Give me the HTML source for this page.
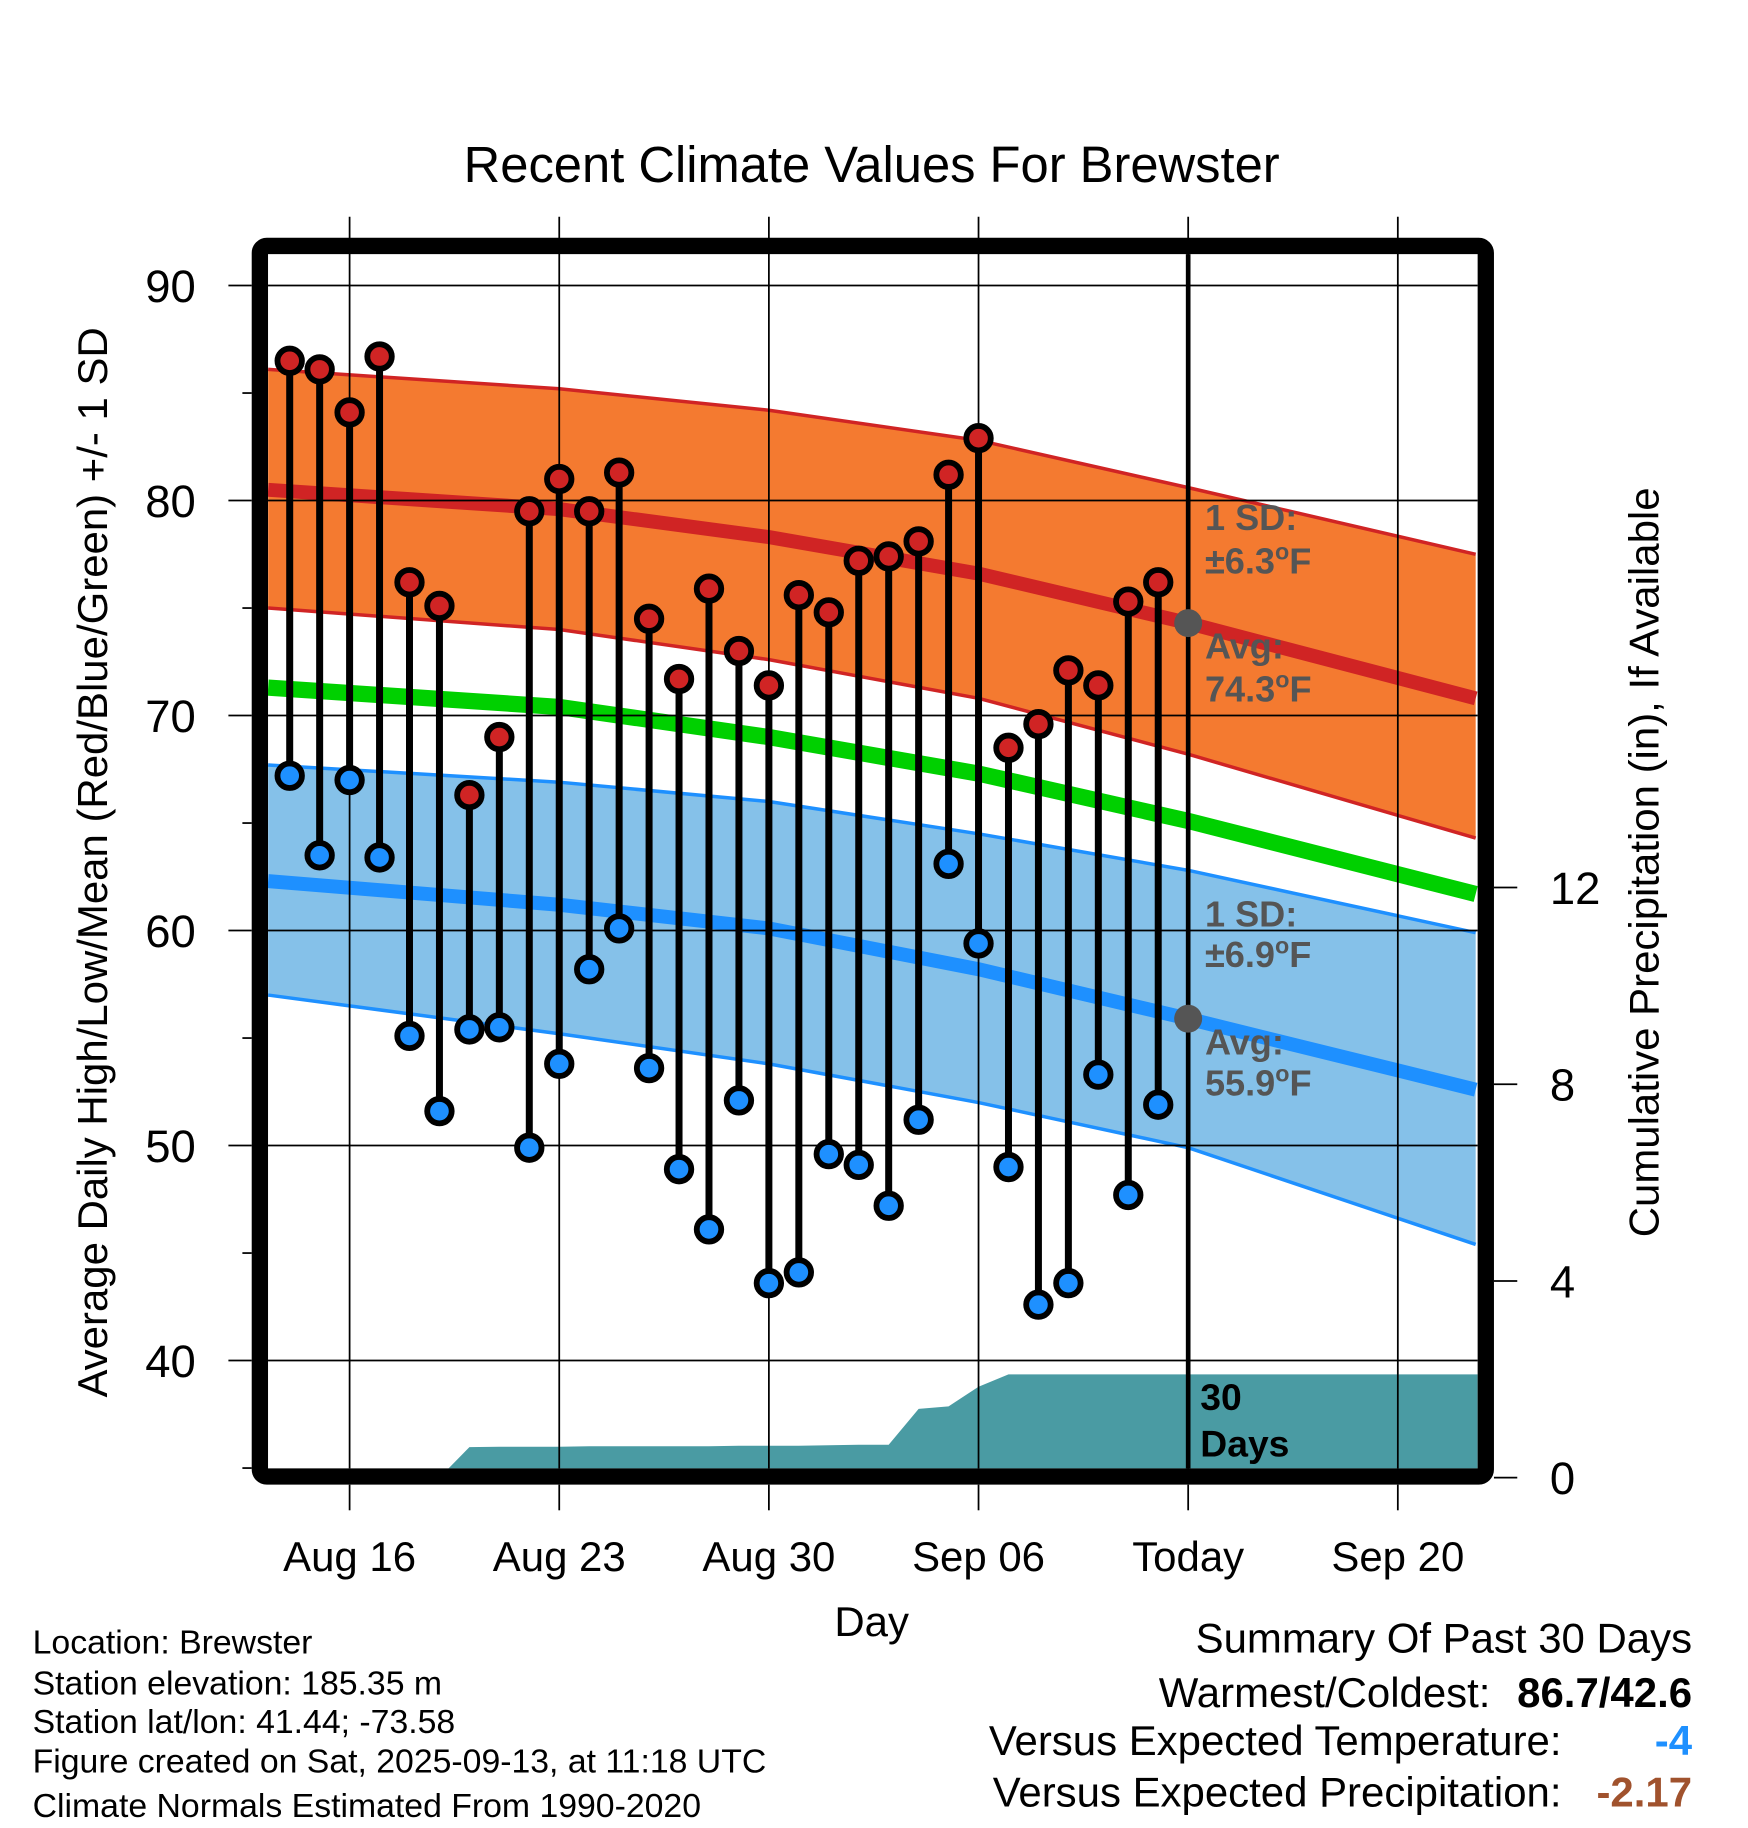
<!DOCTYPE html>
<html><head><meta charset="utf-8"><style>
html,body{margin:0;padding:0;background:#fff}
svg{display:block;font-family:"Liberation Sans",Arial,sans-serif}
</style></head><body>
<svg id="chart" width="1748" height="1828" viewBox="0 0 1500 1568.6" xmlns="http://www.w3.org/2000/svg">
<defs><clipPath id="clip"><rect x="230" y="218" width="1038" height="1042"/></clipPath></defs>
<text x="748" y="156" font-size="43.5" text-anchor="middle">Recent Climate Values For Brewster</text>
<g id="grid"></g>
<g id="plot" clip-path="url(#clip)"></g>
<g id="axes"></g>
<text transform="translate(92,740) rotate(-90)" font-size="36" text-anchor="middle">Average Daily High/Low/Mean (Red/Blue/Green) +/- 1 SD</text>
<text transform="translate(1423,740) rotate(-90)" font-size="36" text-anchor="middle">Cumulative Precipitation (in), If Available</text>
<text x="748" y="1404" font-size="36" text-anchor="middle">Day</text>
<g font-size="29">
<text x="28" y="1419">Location: Brewster</text>
<text x="28" y="1454">Station elevation: 185.35 m</text>
<text x="28" y="1487">Station lat/lon: 41.44; -73.58</text>
<text x="28" y="1521">Figure created on Sat, 2025-09-13, at 11:18 UTC</text>
<text x="28" y="1559">Climate Normals Estimated From 1990-2020</text>
</g>
<g font-size="36">
<text x="1452" y="1418" text-anchor="end">Summary Of Past 30 Days</text>
<text x="1279" y="1465" text-anchor="end">Warmest/Coldest:</text>
<text x="1452" y="1465" text-anchor="end" font-weight="bold">86.7/42.6</text>
<text x="1340" y="1506" text-anchor="end">Versus Expected Temperature:</text>
<text x="1452" y="1506" text-anchor="end" font-weight="bold" fill="#1e90ff">-4</text>
<text x="1340" y="1550" text-anchor="end">Versus Expected Precipitation:</text>
<text x="1452" y="1550" text-anchor="end" font-weight="bold" fill="#a0522d">-2.17</text>
</g>
</svg>
<script>
// day index: Aug 16 = 0
const highs=[86.5,86.1,84.1,86.7,76.2,75.1,66.3,69.0,79.5,81.0,79.5,81.3,74.5,71.7,75.9,73.0,71.4,75.6,74.8,77.2,77.4,78.1,81.2,82.9,68.5,69.6,72.1,71.4,75.3,76.2];
const lows=[67.2,63.5,67.0,63.4,55.1,51.6,55.4,55.5,49.9,53.8,58.2,60.1,53.6,48.9,46.1,52.1,43.6,44.1,49.6,49.1,47.2,51.2,63.1,59.4,49.0,42.6,43.6,53.3,47.7,51.9];
const precip=[0,0,0,0,0,0,0.62,0.63,0.63,0.63,0.64,0.64,0.64,0.64,0.64,0.65,0.65,0.65,0.66,0.67,0.67,1.4,1.45,1.85,2.1,2.1,2.1,2.1,2.1,2.1];
const normDays=[-2.72,7,14,21,28,37.6];
const highUpper=[86.1,85.2,84.2,82.8,80.6,77.5];
const highMean=[80.5,79.6,78.3,76.6,74.3,70.8];
const highLower=[75.0,74.0,72.6,70.8,68.2,64.3];
const meanLine=[71.3,70.4,69.0,67.3,65.1,61.7];
const lowUpper=[67.7,66.9,66.0,64.5,62.8,59.9];
const lowMean=[62.3,61.2,60.1,58.2,55.9,52.6];
const lowLower=[57.0,55.2,53.8,52.0,49.9,45.4];
const xTickDays=[0,7,14,21,28,35];
const xTickLabels=['Aug 16','Aug 23','Aug 30','Sep 06','Today','Sep 20'];
const yTicks=[40,50,60,70,80,90];
const y2Ticks=[0,4,8,12];
const firstDay=-2, todayDay=28;

const NS='http://www.w3.org/2000/svg';
const X=d=>300+d*25.7;
const Y=v=>245+(90-v)*18.45;
const Y2=p=>1268-p*42.2;
function el(tag,attrs,parent){const e=document.createElementNS(NS,tag);for(const k in attrs)e.setAttribute(k,attrs[k]);parent.appendChild(e);return e;}
const plot=document.getElementById('plot'),grid=document.getElementById('grid'),axes=document.getElementById('axes'),svg=document.getElementById('chart');
const pts=(arr)=>normDays.map((d,i)=>X(d)+','+Y(arr[i])).join(' ');
const ptsRev=(arr)=>normDays.map((d,i)=>X(d)+','+Y(arr[i])).reverse().join(' ');

let e;
e=el('polygon',{points:pts(highUpper)+' '+ptsRev(highLower),fill:'#f47a30'},plot);

e=el('polyline',{points:pts(highUpper),fill:'none',stroke:'#d02424','stroke-width':3},plot);

e=el('polyline',{points:pts(highLower),fill:'none',stroke:'#d02424','stroke-width':3},plot);

e=el('polygon',{points:pts(lowUpper)+' '+ptsRev(lowLower),fill:'#85c1e9'},plot);

e=el('polyline',{points:pts(lowUpper),fill:'none',stroke:'#1e90ff','stroke-width':3},plot);

e=el('polyline',{points:pts(lowLower),fill:'none',stroke:'#1e90ff','stroke-width':3},plot);

e=el('polyline',{points:pts(highMean),fill:'none',stroke:'#d02424','stroke-width':12},plot);

e=el('polyline',{points:pts(meanLine),fill:'none',stroke:'#00d000','stroke-width':14},plot);

e=el('polyline',{points:pts(lowMean),fill:'none',stroke:'#1e90ff','stroke-width':12},plot);


// precip area
let pp=[X(firstDay)+','+Y2(0)];
precip.forEach((p,i)=>pp.push(X(firstDay+i)+','+Y2(p)));
pp.push('1268,'+Y2(precip[precip.length-1]));pp.push('1268,'+Y2(0));
e=el('polygon',{points:pp.join(' '),fill:'#4a9ba3'},plot);


// grid lines
yTicks.forEach(v=>{e=el('line',{x1:230,x2:1268,y1:Y(v),y2:Y(v),stroke:'#000','stroke-width':1.5},grid);
});
xTickDays.forEach(d=>{e=el('line',{x1:X(d),x2:X(d),y1:186,y2:1260,stroke:'#000','stroke-width':1.5},grid);
});
svg.insertBefore(grid,plot.nextSibling);

// today line
e=el('line',{x1:X(todayDay),x2:X(todayDay),y1:218,y2:1260,stroke:'#000','stroke-width':4},axes);


// stems and markers
highs.forEach((h,i)=>{const x=X(firstDay+i);
 e=el('line',{x1:x,x2:x,y1:Y(h),y2:Y(lows[i]),stroke:'#000','stroke-width':6},axes);
 });
highs.forEach((h,i)=>{const x=X(firstDay+i);
 e=el('circle',{cx:x,cy:Y(h),r:10.5,fill:'#d02424',stroke:'#000','stroke-width':5},axes);
 
 e=el('circle',{cx:x,cy:Y(lows[i]),r:10.5,fill:'#1e90ff',stroke:'#000','stroke-width':5},axes);
 });

// today average dots
const ti=normDays.indexOf(todayDay);
e=el('circle',{cx:X(todayDay),cy:Y(highMean[ti]),r:12,fill:'#555'},axes);

e=el('circle',{cx:X(todayDay),cy:Y(lowMean[ti]),r:12,fill:'#555'},axes);


// frame
e=el('rect',{x:223,y:211,width:1052,height:1056,rx:6,fill:'none',stroke:'#000','stroke-width':14},axes);


// y ticks
for(let v=35;v<=90;v+=5){const big=v%10==0;
 e=el('line',{x1:big?196:208,x2:216,y1:Y(v),y2:Y(v),stroke:'#000','stroke-width':1.5},axes);
 }
yTicks.forEach(v=>{e=el('text',{x:168,y:Y(v)+14,'font-size':39,'text-anchor':'end'},axes);e.textContent=v;
 });
y2Ticks.forEach(p=>{e=el('line',{x1:1282,x2:1302,y1:Y2(p),y2:Y2(p),stroke:'#000','stroke-width':1.5},axes);
 
 e=el('text',{x:1330,y:Y2(p)+14,'font-size':39},axes);e.textContent=p;
 });
xTickDays.forEach((d,i)=>{e=el('line',{x1:X(d),x2:X(d),y1:1274,y2:1296,stroke:'#000','stroke-width':1.5},axes);
 
 e=el('text',{x:X(d),y:1348,'font-size':36,'text-anchor':'middle'},axes);e.textContent=xTickLabels[i];
 });

// annotations
const ann=[[455,'1 SD:'],[492,'±6.3','F'],[565,'Avg:'],[602,'74.3','F'],[795,'1 SD:'],[830,'±6.9','F'],[905,'Avg:'],[940,'55.9','F']];
ann.forEach(a=>{e=el('text',{x:1034,y:a[0],'font-size':31,'font-weight':'bold',fill:'#555'},axes);
 
 if(a.length>2){e.appendChild(document.createTextNode(a[1]));
  const s=el('tspan',{dy:-12,'font-size':20},e);s.textContent='o';
  const f=el('tspan',{dy:12},e);f.textContent=a[2];}
 else e.textContent=a[1];});
[[1210,'30'],[1250,'Days']].forEach(a=>{e=el('text',{x:1030,y:a[0],'font-size':32,'font-weight':'bold',fill:'#000'},axes);e.textContent=a[1];
 });
</script>
</body></html>
